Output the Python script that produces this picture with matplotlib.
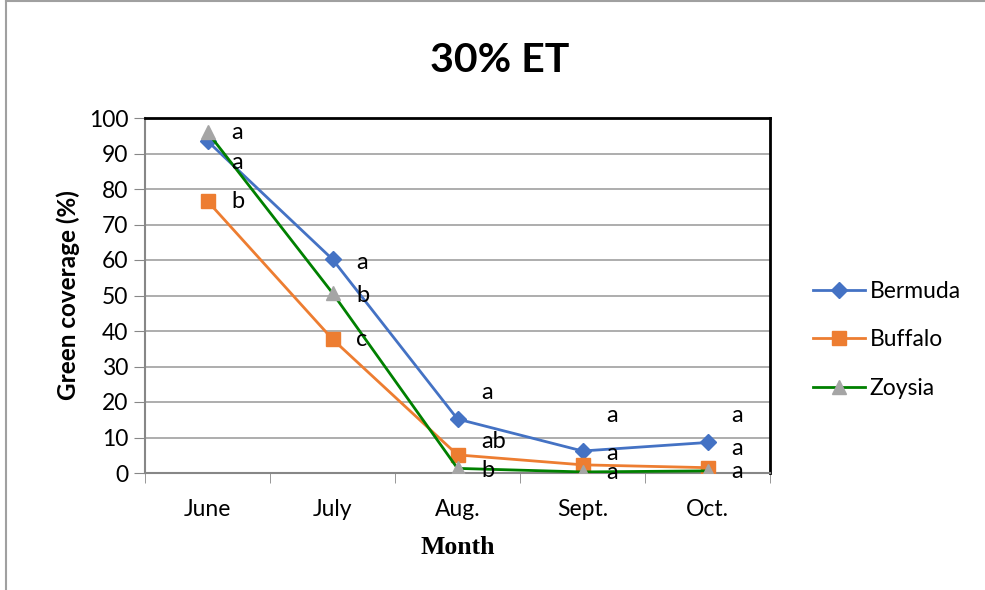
import matplotlib.pyplot as plt
from matplotlib.lines import Line2D
from matplotlib.ticker import FixedLocator

# data
months = ['June', 'July', 'Aug.', 'Sept.', 'Oct.']
bermuda = [93.5, 60.2, 15.2, 6.2, 8.6]
buffalo = [76.6, 37.7, 5.1, 2.3, 1.5]
zoysia = [96.0, 50.7, 1.3, 0.3, 0.6]

# significance letters and where they sit (y in data units)
letters = [['a', 'a', 'b'], ['a', 'b', 'c'], ['a', 'ab', 'b'], ['a', 'a', 'a'], ['a', 'a', 'a']]
letter_y = [[96.0, 87.6, 76.6], [59.4, 50.1, 37.5], [22.8, 9.0, 0.8],
            [16.3, 5.6, 0.2], [16.3, 6.8, 0.3]]

plt.rcParams['font.family'] = ['Lato', 'DejaVu Sans']

fig = plt.figure(figsize=(9.85, 5.9), dpi=100)
ax = fig.add_axes([145 / 985, 117 / 590, 625 / 985, 355 / 590])

x = list(range(len(months)))
ax.plot(x, bermuda, color='#4472C4', lw=2, marker='D', ms=8,
        mfc='#4472C4', mec='#4472C4', label='Bermuda', zorder=3)
ax.plot(x, buffalo, color='#ED7D31', lw=2, marker='s', ms=10,
        mfc='#ED7D31', mec='#ED7D31', label='Buffalo', zorder=3)
ax.plot(x, zoysia, color='#008000', lw=2, marker='^', ms=10,
        mfc='#A5A5A5', mec='#A5A5A5', label='Zoysia', zorder=4)

for i in x:
    for lt, ly in zip(letters[i], letter_y[i]):
        ax.text(i + 0.19, ly, lt, fontsize=17, va='center', ha='left', zorder=5)

ax.set_xlim(-0.5, 4.5)
ax.set_ylim(0, 100)
ax.set_yticks(range(0, 101, 10))
ax.set_xticks(x)
ax.set_xticklabels(months)
ax.xaxis.set_minor_locator(FixedLocator([-0.5, 0.5, 1.5, 2.5, 3.5, 4.5]))
ax.tick_params(axis='x', which='major', length=0, pad=19, labelsize=16.5)
ax.tick_params(axis='x', which='minor', length=7, color='#878787', direction='out')
ax.tick_params(axis='y', length=8, color='#878787', labelsize=16.5, pad=4)

ax.grid(axis='y', color='#A0A0A0', lw=1.2)
ax.set_axisbelow(True)
for s in ['left', 'bottom']:
    ax.spines[s].set_color('#878787')
    ax.spines[s].set_linewidth(1.5)
for s in ['top', 'right']:
    ax.spines[s].set_color('black')
    ax.spines[s].set_linewidth(2)

ax.set_ylabel('Green coverage (%)', fontsize=17.5, fontweight='bold', labelpad=6)
ax.set_xlabel('Month', fontsize=18.5, fontweight='bold', family='Liberation Serif', labelpad=11)

fig.text(500 / 985, 1 - 60 / 590, '30% ET', fontsize=29.5, fontweight='bold',
         ha='center', va='center')

ax.legend(loc='center left', bbox_to_anchor=(1.035, 0.375), frameon=False,
          fontsize=16.5, handlelength=2.3, labelspacing=1.2, handletextpad=0.2)

# outer chart border (only left and top visible)
fig.add_artist(Line2D([6 / 985, 6 / 985], [0, 1 - 1 / 590], transform=fig.transFigure,
                      color='#A0A0A0', lw=1.5))
fig.add_artist(Line2D([6 / 985, 1], [1 - 1 / 590, 1 - 1 / 590], transform=fig.transFigure,
                      color='#A0A0A0', lw=1.5))

fig.savefig('out.png', dpi=100)
